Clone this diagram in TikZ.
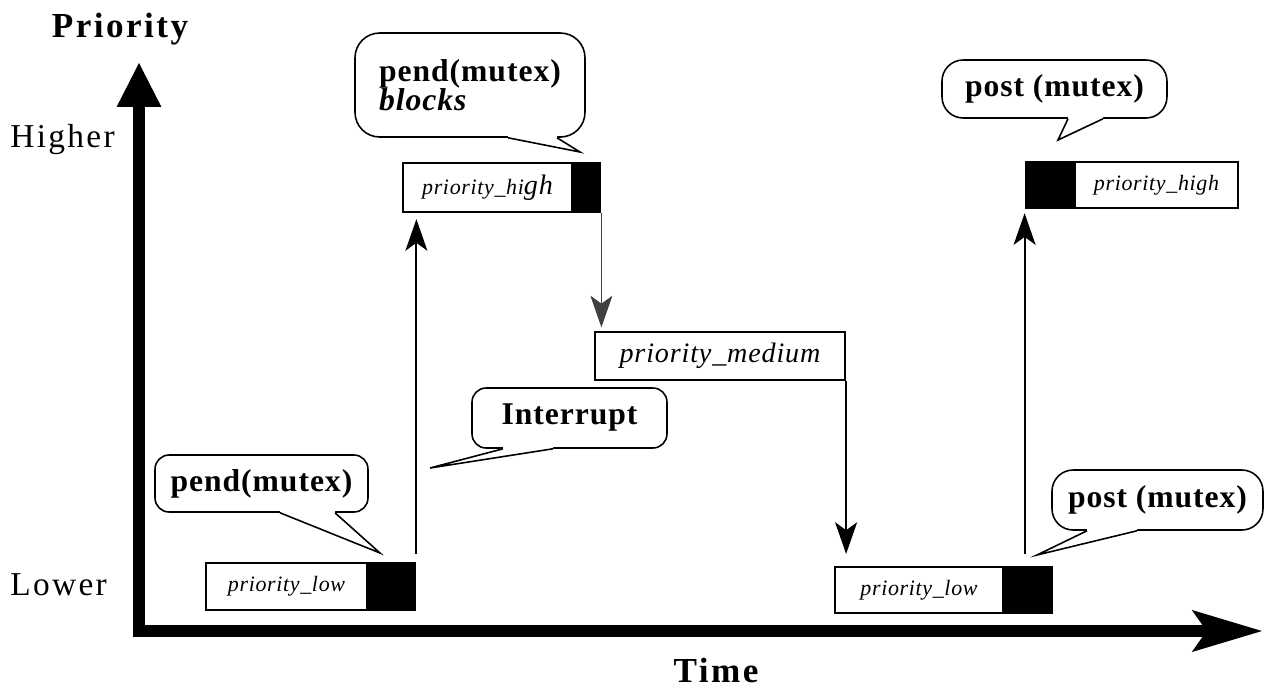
\documentclass[tikz,border=0pt]{standalone}
\usepackage{fontspec}
\setmainfont{Liberation Serif}[LetterSpace=3]
\newfontfamily\widefont{Liberation Serif}[LetterSpace=7]
\newfontfamily\boxfont{Liberation Serif}[LetterSpace=3]
\usetikzlibrary{arrows.meta, positioning, calc}

\begin{document}
\begin{tikzpicture}[
    x=0.02cm, y=-0.02cm,
    yaxis/.style={line width=6.8pt, line cap=rect,
                  -{Triangle[length=25pt, width=25.5pt, line width=0pt]}},
    xaxis/.style={line width=6.8pt, line cap=rect,
                  -{Stealth[length=40pt, width=24pt, inset=8.5pt, line width=0pt]}},
    box/.style={draw, line width=1.3pt, fill=white, inner sep=0pt,
                font=\boxfont\itshape\fontsize{12.5}{14}\selectfont},
    blk/.style={draw, line width=1.3pt, fill=black, inner sep=0pt},
    bubble/.style={draw, fill=white, line width=0.9pt, rounded corners=8pt,
                   inner sep=0pt, font=\bfseries\fontsize{18}{16.5}\selectfont},
    tail/.style={line width=0.9pt, line join=miter},
    arr/.style={-{Stealth[length=18pt, width=12.5pt, inset=4.5pt]}, line width=1.1pt},
    lab/.style={inner sep=0pt, font=\widefont\fontsize{19}{21}\selectfont},
  ]
    \useasboundingbox (0,0) rectangle (1269,698);

    % axes
    \coordinate (orig) at (139,631);
    \coordinate (ytip) at (139,63);
    \coordinate (xtip) at (1262,631);
    \draw[yaxis] (orig) -- (ytip);
    \draw[xaxis] (orig) -- (xtip);

    \node[lab, anchor=base, font=\widefont\bfseries\fontsize{20}{22}\selectfont]
      (prio) at (120,37) {Priority};
    \node[lab, anchor=base west] (higher) at (10,147) {Higher};
    \node[lab, anchor=base west] (lower) at (10,595) {Lower};
    \node[lab, anchor=base, font=\widefont\bfseries\fontsize{20}{22}\selectfont]
      (time) at (716,682) {Time};

    % tasks
    \node[box, minimum width=3.22cm, minimum height=0.94cm] (lowA) at (286.5,586.5)
      {priority\_low};
    \node[blk, minimum width=0.92cm, minimum height=0.94cm, right=0pt of lowA] (lowAblk) {};
    \node[box, minimum width=3.38cm, minimum height=0.98cm] (hiA) at (487.5,187.5)
      {priority\_hi\fontsize{16}{16}\selectfont gh};
    \node[blk, minimum width=0.52cm, minimum height=0.98cm, right=0pt of hiA] (hiAblk) {};
    \node[box, minimum width=5cm, minimum height=0.96cm,
          font=\boxfont\itshape\fontsize{16}{18}\selectfont] (med) at (720,356)
      {priority\_medium};
    \node[box, minimum width=3.36cm, minimum height=0.92cm] (lowB) at (919,590)
      {priority\_low};
    \node[blk, minimum width=0.94cm, minimum height=0.92cm, right=0pt of lowB] (lowBblk) {};
    \node[box, minimum width=3.26cm, minimum height=0.92cm] (hiB) at (1156.5,185)
      {priority\_high};
    \node[blk, minimum width=0.94cm, minimum height=0.92cm, left=0pt of hiB] (hiBblk) {};

    % transitions
    \draw[arr, shorten <=4.5pt, shorten >=3.4pt]
      (lowAblk.north east) -- (lowAblk.north east |- hiA.south);
    \draw[arr, line width=0.6pt, black!75, shorten >=2pt]
      (hiAblk.south east) -- (hiAblk.south east |- med.north);
    \draw[arr, shorten >=6.8pt] (med.south east) -- (med.south east |- lowB.north);
    \draw[arr, shorten <=6.8pt, shorten >=2.3pt]
      (hiBblk.west |- lowBblk.north) -- (hiBblk.south west);

    % callouts
    \node[bubble, minimum width=4.6cm, minimum height=2.08cm, rounded corners=14pt,
          align=left] (cBlock) at (470,85) {pend(mutex)\\\textit{blocks}};
    \node[bubble, minimum width=4.5cm, minimum height=1.16cm, rounded corners=12pt]
      (cPostT) at (1054.5,89) {post (mutex)};
    \node[bubble, minimum width=4.26cm, minimum height=1.14cm] (cPendL) at (261.5,483.5)
      {pend(mutex)};
    \node[bubble, minimum width=3.9cm, minimum height=1.2cm] (cInt) at (569.5,418)
      {Interrupt};
    \node[bubble, minimum width=4.22cm, minimum height=1.2cm, rounded corners=12pt]
      (cPostL) at (1157.5,500) {post (mutex)};

    \coordinate (tipBlock) at (580,152);
    \coordinate (tipPostT) at (1058,140);
    \coordinate (tipPendL) at (380,553);
    \coordinate (tipInt) at (430,468);
    \coordinate (tipPostL) at (1037,555);

    \foreach \n/\a/\t/\b in {cBlock/508/tipBlock/557, cPostT/1068/tipPostT/1103,
                             cPendL/280/tipPendL/335, cInt/503/tipInt/553,
                             cPostL/1087/tipPostL/1137} {
      \fill[white] ($(\a,0 |- \n.south)+(0,-3)$) -- (\a,0 |- \n.south)
        -- (\t) -- (\b,0 |- \n.south) -- ($(\b,0 |- \n.south)+(0,-3)$) -- cycle;
      \draw[tail] (\a,0 |- \n.south) -- (\t) -- (\b,0 |- \n.south);
    }
\end{tikzpicture}
\end{document}
